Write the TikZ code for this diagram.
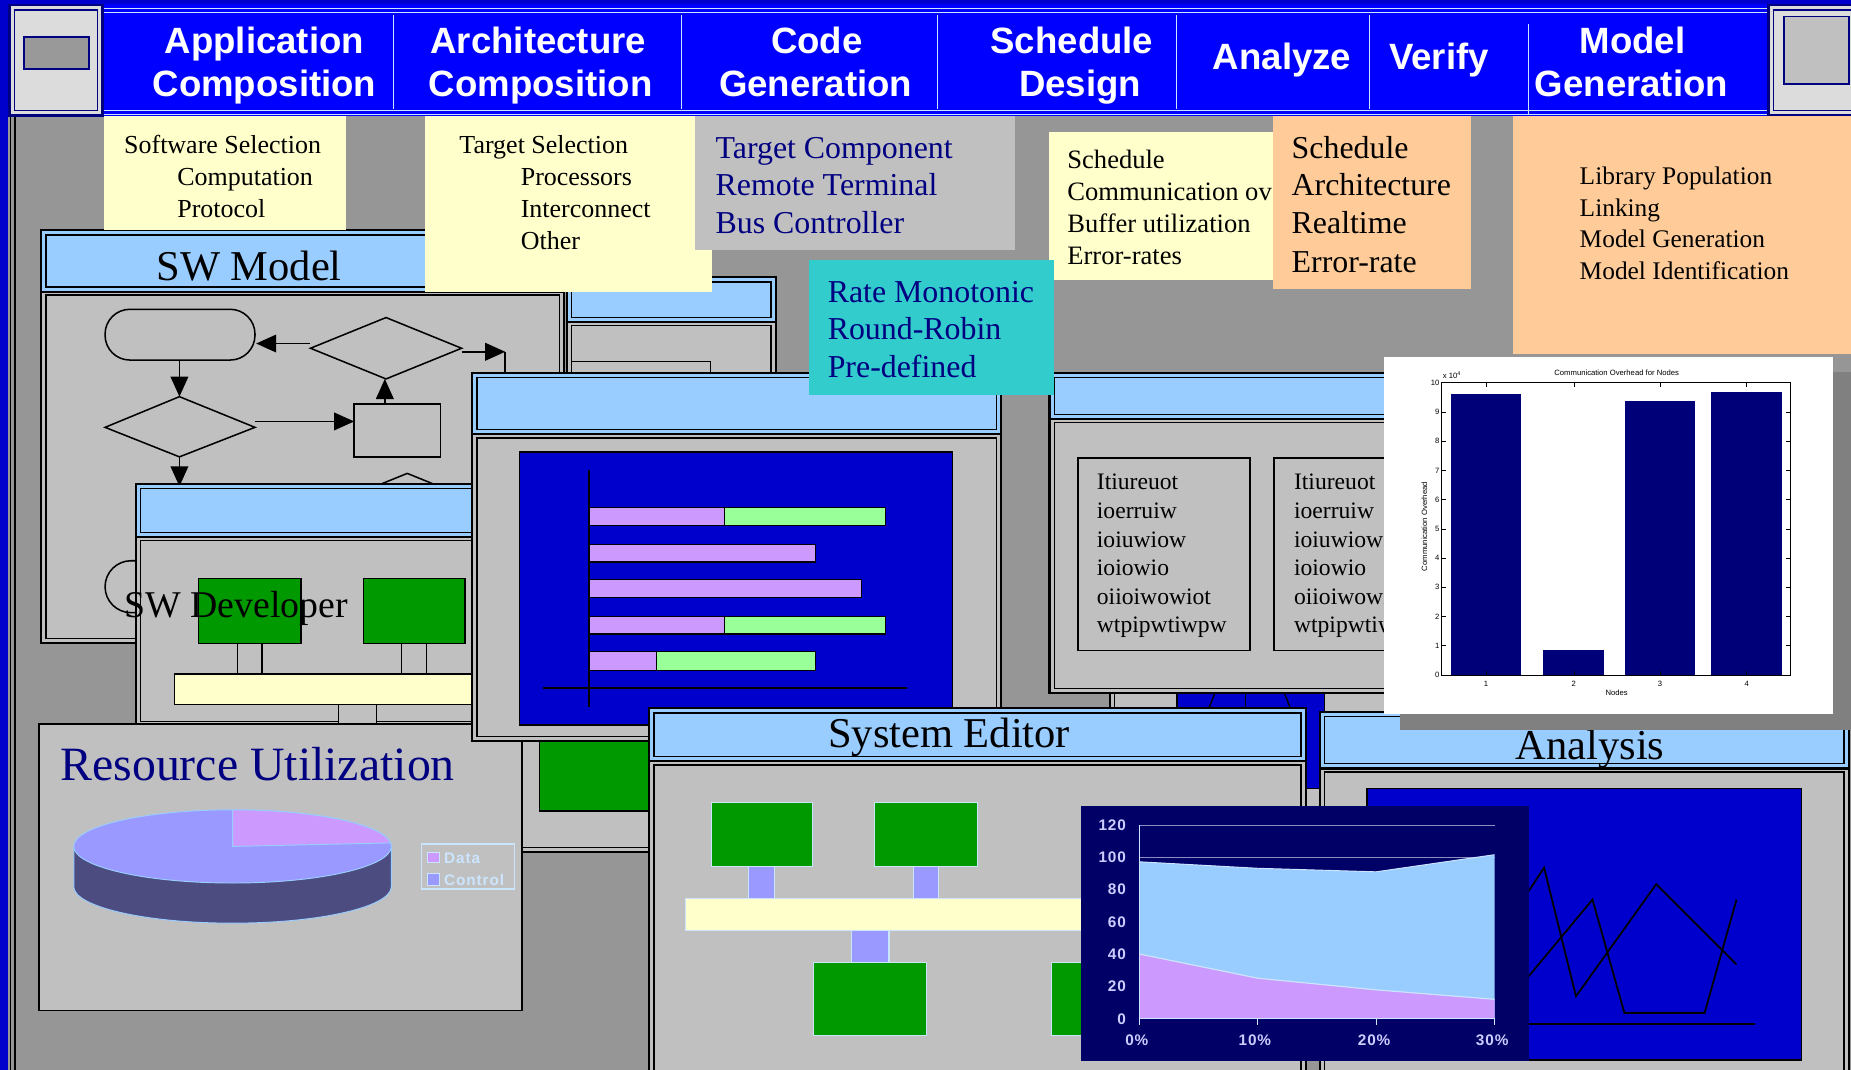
\documentclass[tikz,border=0pt]{standalone}
\usepackage{fontspec}
\setmainfont{Liberation Serif}
\newfontfamily\uisans{Liberation Sans}
\newfontfamily\uispaced[LetterSpace=6.0]{Liberation Sans}
\usetikzlibrary{arrows.meta}

\definecolor{bggray}{HTML}{969696}
\definecolor{panelgray}{HTML}{C0C0C0}
\definecolor{titleblue}{HTML}{99CCFF}
\definecolor{barblue}{HTML}{0000FF}
\definecolor{deepblue}{HTML}{0000CC}
\definecolor{navyline}{HTML}{000080}
\definecolor{notecream}{HTML}{FFFFCC}
\definecolor{notepeach}{HTML}{FFCC99}
\definecolor{notecyan}{HTML}{33CCCC}
\definecolor{boxgreen}{HTML}{009900}
\definecolor{lilac}{HTML}{CC99FF}
\definecolor{mint}{HTML}{99FF99}
\definecolor{periwinkle}{HTML}{9999FF}
\definecolor{pieside}{HTML}{4C4C80}
\definecolor{paleblue}{HTML}{CCE5FF}
\definecolor{chartnavy}{HTML}{000066}
\definecolor{barnavy}{HTML}{000078}
\definecolor{btngray}{HTML}{DCDCDC}
\definecolor{btninner}{HTML}{999999}
\definecolor{shadowgray}{HTML}{808080}
\definecolor{textnavy}{HTML}{000080}
\definecolor{gridline}{HTML}{8C8CC0}
\definecolor{axislabel}{HTML}{CCCCFF}

% window with title bar: x1, y1, x2, y2, y of title bar bottom
\newcommand\winframe[5]{%
  \fill[panelgray] (#1,#2) rectangle (#3,#4);
  \fill[titleblue] (#1,#2) rectangle (#3,#5);
  \draw[wthin] ({#1+4},{#2+4}) rectangle ({#3-4},{#5-4});
  \draw[wthin] ({#1+4},{#5+3}) rectangle ({#3-4},{#4-4});
  \draw[wline] (#1,#2) rectangle (#3,#4);
  \draw[wline] (#1,#5) -- (#3,#5);
}
% window body without title bar
\newcommand\winbody[4]{%
  \fill[panelgray] (#1,#2) rectangle (#3,#4);
  \draw[wthin] ({#1+4},{#2+4}) rectangle ({#3-4},{#4-4});
  \draw[wline] (#1,#2) rectangle (#3,#4);
}

\begin{document}
\begin{tikzpicture}[x=1pt,y=-1pt,
  wline/.style={draw=black,line width=1.8pt},
  wthin/.style={draw=black,line width=1.1pt},
  flow/.style={draw=black,line width=1.3pt},
  arr/.style={flow,-{Triangle[length=17pt,width=15pt]}},
  lbl/.style={inner sep=0pt,anchor=base west},
  ctr/.style={inner sep=0pt,anchor=base},
  menu/.style={inner sep=0pt,anchor=base,text=white,
    font=\uisans\bfseries\fontsize{31}{37}\selectfont},
  wtitle/.style={inner sep=0pt,anchor=base,font=\fontsize{36}{40}\selectfont},
  small/.style={font=\fontsize{22}{27}\selectfont},
  large/.style={font=\fontsize{27}{32}\selectfont},
  greenbox/.style={fill=boxgreen,draw=black,line width=1.1pt},
  palegreen/.style={fill=boxgreen,draw=paleblue,line width=1pt},
  link/.style={fill=periwinkle,draw=paleblue,line width=1pt},
  hbar/.style={draw=black,line width=1pt},
  tick/.style={inner sep=0pt,font=\uisans\fontsize{6.5}{7.5}\selectfont},
  achart/.style={inner sep=0pt,text=axislabel,font=\uispaced\bfseries\fontsize{13}{15}\selectfont}]

\useasboundingbox (0,0) rectangle (1568,906);
\clip (0,0) rectangle (1568,906);
\fill[bggray] (0,0) rectangle (1568,906);

% left frame strip
\fill[deepblue] (0,0) rectangle (7,906);
\draw[black,line width=1.3pt] (9,99) -- (9,906);
\draw[black,line width=1.3pt] (12.5,99) -- (12.5,906);

% ---------------- menu bar ----------------
\fill[deepblue] (0,0) rectangle (1568,3);
\fill[barblue] (88,3) rectangle (1500,98);
\foreach \yy in {7,10.5,93.5,97}
  \draw[paleblue,line width=1.2pt] (88,\yy) -- (1500,\yy);
\foreach \xx in {333,577,794,997,1160}
  \draw[paleblue,line width=0.9pt] (\xx,13) -- (\xx,92);
\draw[paleblue,line width=0.9pt] (1295,20) -- (1295,97);

\node[menu] (m1a) at (224,45) {Application};
\node[menu] (m1b) at (224,82) {Composition};
\node[menu] (m2a) at (456,45) {Architecture};
\node[menu] (m2b) at (458,82) {Composition};
\node[menu] (m3a) at (692,45) {Code};
\node[menu] (m3b) at (691,82) {Generation};
\node[menu] (m4a) at (908,45) {Schedule};
\node[menu] (m4b) at (915,82) {Design};
\node[menu] (m5) at (1086,59) {Analyze};
\node[menu] (m6) at (1219,59) {Verify};
\node[menu] (m7a) at (1383,45) {Model};
\node[menu] (m7b) at (1382,82) {Generation};

% buttons at both ends of the menu bar
\fill[navyline] (7,3) rectangle (88,99);
\fill[btngray] (9.5,5.5) rectangle (85.5,96.5);
\draw[navyline,line width=1pt] (12.5,8.5) rectangle (82.5,93.5);
\filldraw[fill=btninner,draw=navyline,line width=1.6pt] (20.5,31) rectangle (75.5,58.5);
\fill[navyline] (1497,3) rectangle (1568,99);
\fill[btngray] (1499.5,5.5) rectangle (1568,96.5);
\draw[navyline,line width=1pt] (1502.5,8.5) rectangle (1570,93.5);
\filldraw[fill=panelgray,draw=navyline,line width=1.6pt] (1511.5,14) rectangle (1566,71);

% ---------------- SW Model window ----------------
\winframe{35}{195}{478}{545}{247}
\node[wtitle] (swmodel) at (211,238) {SW Model};
\draw[flow,rounded corners=21pt] (89,262) rectangle (216,305);
\draw[flow] (263,295) -- (327,269) -- (391,295) -- (327,321) -- cycle;
\draw[flow] (89,362) -- (152,336) -- (216,362) -- (152,387) -- cycle;
\draw[flow] (300,342) rectangle (373,387);
\draw[arr] (263,291) -- (217,291);
\draw[arr] (391,298) -- (428,298);
\draw[flow] (428,298) -- (428,320);
\draw[arr] (152,305) -- (152,336);
\draw[arr] (216,357) -- (300,357);
\draw[arr] (326,342) -- (326,321);
\draw[arr] (152,387) -- (152,412);
\draw[flow] (281,427) -- (345,401) -- (409,427) -- (345,453) -- cycle;
\draw[flow,rounded corners=22pt] (89,475) rectangle (216,519);

% ---------------- small window behind ----------------
\winframe{480}{235}{657}{330}{273}
\filldraw[fill=panelgray,wthin] (484,306) rectangle (602,330);

% ---------------- SW Developer window ----------------
\winframe{115}{410}{405}{615}{455}
\filldraw[greenbox] (168,490) rectangle (255,545);
\filldraw[greenbox] (308,490) rectangle (394,545);
\filldraw[fill=panelgray,wthin] (201,545) rectangle (222,571);
\filldraw[fill=panelgray,wthin] (340,545) rectangle (361,571);
\filldraw[fill=notecream,wthin] (148,571) rectangle (410,597);
\filldraw[fill=panelgray,wthin] (287,597) rectangle (319,618);
\node[inner sep=0pt,anchor=base west,font=\fontsize{32}{36}\selectfont] (swdev) at (105,523) {SW Developer};

% ---------------- window below the timeline ----------------
\winbody{400}{560}{560}{722}
\filldraw[greenbox] (457,628) rectangle (552,687);

% ---------------- Resource Utilization ----------------
\filldraw[fill=panelgray,draw=black,line width=1.6pt] (33,613) rectangle (442,856);
\node[inner sep=0pt,anchor=base west,text=textnavy,font=\fontsize{40.5}{44}\selectfont] (resutil) at (51,661) {Resource Utilization};
\fill[pieside] (62.5,717) -- (62.5,751)
  arc[start angle=180,end angle=360,x radius=134.5pt,y radius=31pt] -- (331.5,717)
  arc[start angle=360,end angle=180,x radius=134.5pt,y radius=31pt] -- cycle;
\draw[titleblue,line width=0.8pt] (62.5,717) -- (62.5,751)
  arc[start angle=180,end angle=360,x radius=134.5pt,y radius=31pt] -- (331.5,717);
\filldraw[fill=periwinkle,draw=titleblue,line width=0.8pt] (197,717) ellipse [x radius=134.5pt,y radius=31pt];
\filldraw[fill=lilac,draw=titleblue,line width=0.8pt] (197,717) -- (197,686)
  arc[start angle=90,end angle=5.5,x radius=134.5pt,y radius=31pt] -- cycle;
\draw[paleblue,line width=1pt] (357,715) rectangle (436,753);
\filldraw[fill=lilac,draw=paleblue,line width=0.8pt] (362,722) rectangle (372,731);
\filldraw[fill=periwinkle,draw=paleblue,line width=0.8pt] (362,740) rectangle (372,750);
\begin{scope}[font=\uispaced\bfseries\fontsize{13}{14}\selectfont,text=paleblue]
\node[lbl] (legdata) at (376,731.5) {Data};
\node[lbl] (legctrl) at (376,750) {Control};
\end{scope}

% ---------------- timeline window ----------------
\winframe{400}{316}{848}{628}{368}
\filldraw[fill=deepblue,draw=black,line width=1.3pt] (440,383) rectangle (807,614);
\draw[black,line width=1.3pt] (499,398) -- (499,599);
\draw[black,line width=1.3pt] (460,583) -- (768,583);
\filldraw[fill=lilac,hbar] (499,430) rectangle (614,445);
\filldraw[fill=mint,hbar] (614,430) rectangle (750,445);
\filldraw[fill=lilac,hbar] (499,461) rectangle (691,476);
\filldraw[fill=lilac,hbar] (499,491) rectangle (730,506);
\filldraw[fill=lilac,hbar] (499,522) rectangle (614,537);
\filldraw[fill=mint,hbar] (614,522) rectangle (750,537);
\filldraw[fill=lilac,hbar] (499,552) rectangle (556,568);
\filldraw[fill=mint,hbar] (556,552) rectangle (691,568);

% ---------------- graph window partly hidden ----------------
\winbody{940}{580}{1180}{720}
\filldraw[fill=deepblue,draw=black,line width=1.3pt] (997,580) rectangle (1122,668);
\draw[black,line width=1.2pt] (1055,580) -- (1055,605);
\draw[black,line width=1.2pt] (1095,605) -- (1088,587);
\draw[black,line width=1.2pt] (1032,580) -- (1022,605);

% ---------------- report window ----------------
\winframe{889}{316}{1195}{587}{355}
\draw[black,line width=1.3pt] (913,388) rectangle (1059,551);
\draw[black,line width=1.3pt] (1079,388) rectangle (1225,551);
\begin{scope}[font=\fontsize{20}{24}\selectfont]
\foreach \w [count=\i from 0] in {Itiureuot,ioerruiw,ioiuwiow,ioiowio,oiioiwowiot,wtpipwtiwpw}
  \node[lbl] (ita\i) at (929,{415+24.2*\i}) {\w};
\begin{scope}
\clip (1079,388) rectangle (1173,551);
\foreach \w [count=\i from 0] in {Itiureuot,ioerruiw,ioiuwiow,ioiowio,oiioiwowiot,wtpipwtiwpw}
  \node[lbl] (itb\i) at (1096,{415+24.2*\i}) {\w};
\end{scope}
\end{scope}

% ---------------- System Editor ----------------
\winframe{550}{600}{1106}{920}{645}
\node[wtitle] (syseditor) at (804,633) {System Editor};
\filldraw[palegreen] (603,680) rectangle (688,734);
\filldraw[palegreen] (741,680) rectangle (828,734);
\filldraw[link] (634,734) rectangle (656,761);
\filldraw[link] (774,734) rectangle (795,761);
\filldraw[fill=notecream,draw=paleblue,line width=1pt] (581,761) rectangle (930,788);
\filldraw[link] (721,788) rectangle (753,815);
\filldraw[palegreen] (689,815) rectangle (785,877);
\filldraw[palegreen] (891,815) rectangle (960,877);

% ---------------- Analysis ----------------
\winframe{1118}{603}{1566}{920}{651}
\node[wtitle] (analysis) at (1347,643) {Analysis};
\filldraw[fill=deepblue,draw=black,line width=1.5pt] (1158,668) rectangle (1526,898);
\draw[black,line width=1.5pt] (1250,867.5) -- (1487,867.5);
\draw[black,line width=1.5pt] (1285,770) -- (1308,735) -- (1335,844) -- (1403,749) -- (1471,817);
\draw[black,line width=1.5pt] (1285,839) -- (1349,762) -- (1376,858) -- (1444,858) -- (1471,762);

% ---------------- area chart ----------------
\fill[chartnavy] (916,683) rectangle (1295,899);
\draw[gridline,line width=1pt] (965,699) -- (1266,699);
\draw[gridline,line width=1pt] (965,726.3) -- (1266,726.3);
\fill[titleblue] (965,863) -- (965,730) -- (1065.3,735.5) -- (1165.7,738.5) -- (1266,724) -- (1266,863) -- cycle;
\draw[paleblue,line width=0.8pt] (965,730) -- (1065.3,735.5) -- (1165.7,738.5) -- (1266,724);
\fill[lilac] (965,863) -- (965,808.1) -- (1065.3,828.6) -- (1165.7,838.5) -- (1266,846.5) -- (1266,863) -- cycle;
\draw[paleblue,line width=1pt] (965,808.1) -- (1065.3,828.6) -- (1165.7,838.5) -- (1266,846.5);
\draw[paleblue,line width=0.9pt] (965,699) -- (965,868);
\draw[paleblue,line width=0.9pt] (965,863) -- (1266,863);
\foreach \xx in {965,1065.3,1165.7,1266}
  \draw[paleblue,line width=0.9pt] (\xx,863) -- (\xx,868);
\foreach \v in {0,20,...,120}
  \node[achart,anchor=east] (av\v) at (954,{863-1.3667*\v}) {\v};
\node[achart,anchor=base] (ax0) at (963,886) {0\%};
\node[achart,anchor=base] (ax1) at (1063,886) {10\%};
\node[achart,anchor=base] (ax2) at (1164,886) {20\%};
\node[achart,anchor=base] (ax3) at (1264,886) {30\%};

% ---------------- notes ----------------
\fill[notecream] (88,98) rectangle (293,195);
\begin{scope}[small]
\node[lbl] (swsel) at (105,130) {Software Selection};
\node[lbl] (swcomp) at (150,157) {Computation};
\node[lbl] (swprot) at (150,184) {Protocol};
\end{scope}

\fill[notecream] (360,98) rectangle (603,247);
\begin{scope}[small]
\node[lbl] (tgsel) at (389,130) {Target Selection};
\node[lbl] (tgproc) at (441,157) {Processors};
\node[lbl] (tgint) at (441,184) {Interconnect};
\node[lbl] (tgoth) at (441,211) {Other};
\end{scope}

\fill[panelgray] (589,98) rectangle (860,212);
\begin{scope}[large,text=textnavy]
\node[lbl] (tcomp) at (606,134) {Target Component};
\node[lbl] (tremote) at (606,166) {Remote Terminal};
\node[lbl] (tbus) at (606,198) {Bus Controller};
\end{scope}

\fill[notecream] (889,112) rectangle (1078,237);
\begin{scope}[font=\fontsize{22.5}{27}\selectfont]
\node[lbl] (dsched) at (904,143) {Schedule};
\node[lbl] (dcomm) at (904,170) {Communication ov};
\node[lbl] (dbuf) at (904,197) {Buffer utilization};
\node[lbl] (derr) at (904,224) {Error-rates};
\end{scope}

\fill[notepeach] (1078,98) rectangle (1246,245);
\begin{scope}[large]
\node[lbl] (esched) at (1094,134) {Schedule};
\node[lbl] (earch) at (1094,166) {Architecture};
\node[lbl] (ereal) at (1094,198) {Realtime};
\node[lbl] (eerr) at (1094,231) {Error-rate};
\end{scope}

\fill[notepeach] (1282,98) rectangle (1568,300);
\begin{scope}[font=\fontsize{21.5}{27}\selectfont]
\node[lbl] (flib) at (1338,156) {Library Population};
\node[lbl] (flink) at (1338,183) {Linking};
\node[lbl] (fgen) at (1338,210) {Model Generation};
\node[lbl] (fid) at (1338,237) {Model Identification};
\end{scope}

\fill[notecyan] (685,220) rectangle (893,335);
\begin{scope}[large,text=textnavy]
\node[lbl] (grm) at (701,256) {Rate Monotonic};
\node[lbl] (grr) at (701,288) {Round-Robin};
\node[lbl] (gpd) at (701,320) {Pre-defined};
\end{scope}

% ---------------- bar chart panel ----------------
\fill[shadowgray] (1186,315) rectangle (1568,618);
\fill[white] (1172,302) rectangle (1553,605);
\fill[barnavy] (1229.2,334.1) rectangle (1288.5,571.8);
\fill[barnavy] (1307.4,550.6) rectangle (1359,571.8);
\fill[barnavy] (1376.6,339.8) rectangle (1435.8,571.8);
\fill[barnavy] (1449.5,331.9) rectangle (1509.8,571.8);
\draw[black,line width=0.6pt] (1221.2,324.2) rectangle (1516.3,571.8);
\foreach \v in {0,...,10} {
  \draw[black,line width=0.5pt] (1221.2,{571.8-24.76*\v}) -- (1224.5,{571.8-24.76*\v});
  \draw[black,line width=0.5pt] (1513,{571.8-24.76*\v}) -- (1516.3,{571.8-24.76*\v});
  \node[tick,anchor=east] (cy\v) at (1219.5,{571.8-24.76*\v}) {\v};
}
\foreach \xx/\n in {1258.8/1,1333.2/2,1406.2/3,1479.6/4} {
  \draw[black,line width=0.5pt] (\xx,324.2) -- (\xx,327.5);
  \draw[black,line width=0.5pt] (\xx,571.8) -- (\xx,568.5);
  \node[tick] (cx\n) at (\xx,579) {\n};
}
\node[tick] (ctitle) at (1369.5,315.7) {Communication Overhead for Nodes};
\node[tick,anchor=base west] (cexp) at (1222,321) {x 10\textsuperscript{4}};
\node[tick] (cnodes) at (1369.5,587) {Nodes};
\node[tick,rotate=90] (cylab) at (1206.6,446) {Communication Overhead};

\end{tikzpicture}
\end{document}
